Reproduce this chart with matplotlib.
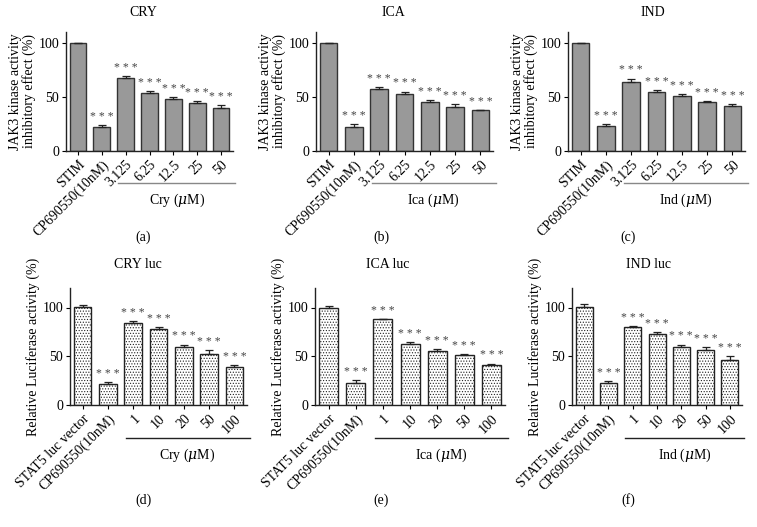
import matplotlib
matplotlib.use('Agg')
import matplotlib.pyplot as plt
import matplotlib.transforms as mtransforms
import numpy as np

plt.rcParams['font.family'] = ['Liberation Serif', 'DejaVu Serif']
plt.rcParams['mathtext.fontset'] = 'dejavuserif'
plt.rcParams['hatch.linewidth'] = 0.5
plt.rcParams['hatch.color'] = '#666666'

# 上排: JAK3 kinase
top_titles = ['CRY', 'ICA', 'IND']
top_names = ['Cry', 'Ica', 'Ind']
top_labels = ['STIM', 'CP690550(10nM)', '3.125', '6.25', '12.5', '25', '50']
cry_val = [100, 22.5, 67.5, 53.5, 48, 44, 40]
cry_err = [0, 1.5, 1.5, 2, 2, 2, 2.5]
ica_val = [100, 22.5, 57, 53, 45.5, 41, 37.5]
ica_err = [0, 2, 2, 2, 2, 2, 0.5]
ind_val = [100, 23, 64, 54.5, 50.5, 45, 41.5]
ind_err = [0, 2, 3, 2, 2.5, 1, 2]

# 下排: luciferase
bot_titles = ['CRY luc', 'ICA luc', 'IND luc']
bot_labels = ['STAT5 luc vector', 'CP690550(10nM)', '1', '10', '20', '50', '100']
cryl_val = [101, 22, 84, 78, 60, 52.5, 39]
cryl_err = [1.5, 2, 2.5, 2, 2, 4, 2]
ical_val = [100, 23, 88, 63, 55, 51.5, 41.5]
ical_err = [2, 3, 0.5, 2, 2, 1, 1]
indl_val = [101, 23, 80, 72.5, 60, 56, 46]
indl_err = [3, 2, 1, 2, 2, 3, 4]

top_data = [(cry_val, cry_err), (ica_val, ica_err), (ind_val, ind_err)]
bot_data = [(cryl_val, cryl_err), (ical_val, ical_err), (indl_val, indl_err)]

W, H = 757, 527
fig = plt.figure(figsize=(W/100, H/100), dpi=100)

def px(x0, x1, y0, y1):
    # pixel box -> figure rect
    return [x0/W, 1-y1/H, (x1-x0)/W, (y1-y0)/H]

top_rects = [px(66, 233, 32, 151), px(316, 493, 32, 151), px(568, 745, 32, 151)]
bot_rects = [px(70, 247, 288, 405), px(315, 505, 288, 405), px(572, 742, 288, 405)]
top_letters = ['(a)', '(b)', '(c)']
bot_letters = ['(d)', '(e)', '(f)']
letter_x = [143, 381, 628]
title_x = [143, 393, 653]
fs = 10

def draw_panel(rect, vals, errs, labels, ymax, top, name, title, letter, lx, tx):
    ax = fig.add_axes(rect)
    x = np.arange(len(vals))
    if top:
        ax.bar(x, vals, width=0.7, color='#999999', edgecolor='#333333', linewidth=1.0)
    else:
        ax.bar(x, vals, width=0.7, color='white', edgecolor='#222222', linewidth=1.0, hatch='......')
    lower = np.zeros(len(errs))
    ax.errorbar(x, vals, yerr=[lower, errs], fmt='none', ecolor='#222222', elinewidth=0.9, capsize=3, capthick=0.9)
    for i in range(1, len(vals)):
        ax.annotate('* * *', (x[i], vals[i] + errs[i]), xytext=(0, 1.5), textcoords='offset points',
                    ha='center', va='bottom', fontsize=8.5, color='#444444')
    ax.set_xlim(-0.5, 6.5)
    ax.set_ylim(0, ymax)
    ax.set_yticks([0, 50, 100])
    ax.set_xticks(x)
    ax.set_xticklabels(labels, rotation=45, ha='right', rotation_mode='anchor', fontsize=fs)
    ax.tick_params(axis='y', labelsize=fs, length=3, width=0.8, pad=2)
    ax.tick_params(axis='x', length=3, width=0.8, pad=2)
    ax.spines['top'].set_visible(False)
    ax.spines['right'].set_visible(False)
    for s in ['left', 'bottom']:
        ax.spines[s].set_linewidth(1.0)
        ax.spines[s].set_color('#222222')
    if top:
        ax.set_ylabel('JAK3 kinase activity\ninhibitory effect (%)', fontsize=fs, labelpad=2, linespacing=1.0)
        ly, ty, tty, ly2 = 183, 200, 13, 237
        lc = '#888888'
    else:
        ax.set_ylabel('Relative Luciferase activity (%)', fontsize=fs, labelpad=2)
        ly, ty, tty, ly2 = 438, 455, 265, 500
        lc = '#222222'
    trans = mtransforms.blended_transform_factory(ax.transData, fig.transFigure)
    ax.plot([1.7, 6.6], [1-ly/H, 1-ly/H], color=lc, lw=1.0, transform=trans, clip_on=False)
    ax.text(4.15, 1-ty/H, name + r' ($\mu$M)', transform=trans, ha='center', va='center', fontsize=fs)
    fig.text(tx/W, 1-tty/H, title, ha='center', va='center', fontsize=fs)
    fig.text(lx/W, 1-ly2/H, letter, ha='center', va='center', fontsize=fs)
    return ax

for k in range(3):
    v, e = top_data[k]
    draw_panel(top_rects[k], v, e, top_labels, 110, True, top_names[k], top_titles[k],
               top_letters[k], letter_x[k], title_x[k])
    v, e = bot_data[k]
    draw_panel(bot_rects[k], v, e, bot_labels, 120, False, top_names[k], bot_titles[k],
               bot_letters[k], letter_x[k], title_x[k] - 5)

fig.savefig('out.png', dpi=100)
